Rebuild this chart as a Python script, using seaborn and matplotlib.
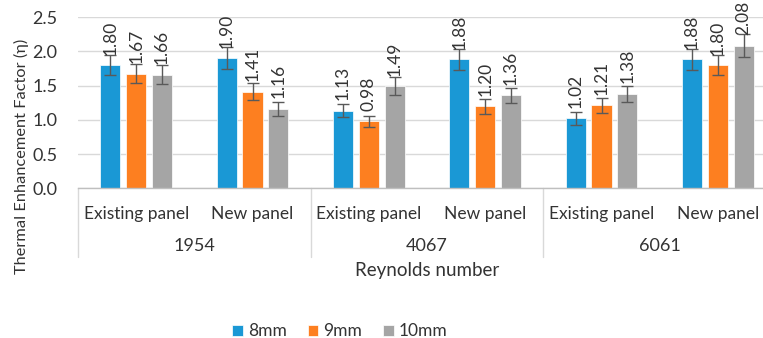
import matplotlib
matplotlib.use("Agg")
import matplotlib.pyplot as plt
import matplotlib.transforms as mtransforms
import pandas as pd
import seaborn as sns

# Reynolds number groups, panel types and fin sizes
reynolds = ["1954", "4067", "6061"]
panels = ["Existing panel", "New panel"]
sizes = ["8mm", "9mm", "10mm"]

# Thermal enhancement factor per (Reynolds, panel) case, one list per fin size
eta_8mm = [1.80, 1.90, 1.13, 1.88, 1.02, 1.88]
eta_9mm = [1.67, 1.41, 0.98, 1.20, 1.21, 1.80]
eta_10mm = [1.66, 1.16, 1.49, 1.36, 1.38, 2.08]

# Error bar half-widths
err_8mm = [0.15, 0.16, 0.095, 0.16, 0.09, 0.155]
err_9mm = [0.14, 0.12, 0.08, 0.11, 0.105, 0.15]
err_10mm = [0.14, 0.10, 0.13, 0.11, 0.12, 0.17]

colors = ["#1A98D5", "#FD7F20", "#A5A5A5"]
text_color = "#333333"

cases = [f"{re}\n{p}" for re in reynolds for p in panels]
values = {"8mm": eta_8mm, "9mm": eta_9mm, "10mm": eta_10mm}
errors = {"8mm": err_8mm, "9mm": err_9mm, "10mm": err_10mm}

rows = []
for s in sizes:
    for c, v in zip(cases, values[s]):
        rows.append({"case": c, "size": s, "eta": v})
df = pd.DataFrame(rows)

sns.set_style("white")
plt.rcParams["font.family"] = ["Lato", "DejaVu Sans"]

W, H = 763, 338
fig = plt.figure(figsize=(W / 100, H / 100), dpi=100)
x0, x1 = 78, 776
y_top, y_bot = 17, 188.3
ax = fig.add_axes([x0 / W, 1 - y_bot / H, (x1 - x0) / W, (y_bot - y_top) / H])

sns.barplot(data=df, x="case", y="eta", hue="size", order=cases, hue_order=sizes,
            palette=colors, width=0.665, gap=0.22, errorbar=None, ax=ax,
            edgecolor="white", linewidth=0.5, saturation=1)

# error bars and rotated value labels on every bar
for s, cont in zip(sizes, ax.containers):
    xs = [p.get_x() + p.get_width() / 2 for p in cont.patches]
    ax.errorbar(xs, values[s], yerr=errors[s], fmt="none", ecolor="#595959",
                elinewidth=1, capsize=4.5, capthick=1, zorder=3)
    for x, v in zip(xs, values[s]):
        ax.annotate(f"{v:.2f}", xy=(x, v), xytext=(0, 7.5), textcoords="offset points",
                    rotation=90, ha="center", va="bottom", fontsize=12.5,
                    color=text_color, zorder=4)

ax.set_ylim(0, 2.5)
ax.set_xlim(-0.5, len(cases) - 0.5)
ax.set_yticks([0, 0.5, 1.0, 1.5, 2.0, 2.5])
ax.set_yticklabels([f"{t:.1f}" for t in ax.get_yticks()])
ax.yaxis.grid(True, color="#D9D9D9", linewidth=1)
ax.set_axisbelow(True)
for side in ["left", "right", "top"]:
    ax.spines[side].set_visible(False)
ax.spines["bottom"].set_color("#BFBFBF")
ax.spines["bottom"].set_linewidth(1)
ax.tick_params(axis="y", length=0, pad=15, labelsize=13, labelcolor=text_color)
ax.tick_params(axis="x", length=0, pad=13, labelsize=12.5, labelcolor=text_color)
ax.set_xticks(range(len(cases)))
ax.set_xticklabels([p for _ in reynolds for p in panels])
ax.set_xlabel("")
ax.set_ylabel("")

# Reynolds group labels and separators below the axis
trans = mtransforms.blended_transform_factory(ax.transData, ax.transAxes)
px = 1 / (y_bot - y_top)
for i, re in enumerate(reynolds):
    ax.text(2 * i + 0.5, -(245.7 - y_bot) * px, re, transform=trans, ha="center",
            va="center", fontsize=13, color=text_color)
for k in range(len(reynolds) + 1):
    ax.plot([2 * k - 0.5, 2 * k - 0.5], [0, -(257 - y_bot) * px], transform=trans,
            color="#D9D9D9", linewidth=1, clip_on=False)

fig.text((x0 + x1) / 2 / W, 1 - 270.7 / H, "Reynolds number", ha="center",
         va="center", fontsize=13.5, color=text_color)
fig.text(21.7 / W, 1 - 156.7 / H, "Thermal Enhancement Factor (η)", rotation=90,
         ha="center", va="center", fontsize=11.8, color=text_color)

handles, labels = ax.get_legend_handles_labels()
if ax.get_legend() is not None:
    ax.get_legend().remove()
fig.legend(handles, labels, loc="center", bbox_to_anchor=(340 / W, 1 - 331.5 / H),
           ncol=3, frameon=False, handlelength=0.6, handleheight=0.6,
           handletextpad=0.3, columnspacing=1.2, fontsize=12.5, labelcolor=text_color)

fig.savefig("out.png", dpi=100)
